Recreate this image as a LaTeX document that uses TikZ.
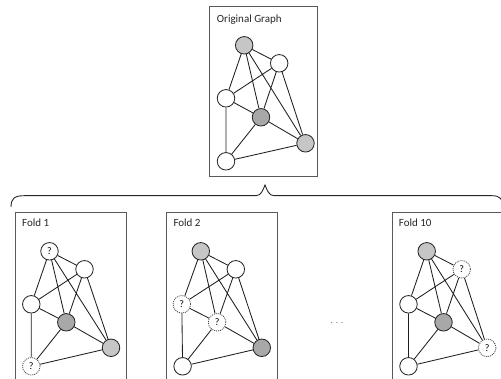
\documentclass[tikz,border=0pt]{standalone}
\usepackage{fontspec}
\setmainfont{Carlito}
\begin{document}
\begin{tikzpicture}[x=1pt,y=-1pt,
  vtx/.style={circle,draw=black!85,line width=0.85pt,minimum size=17.5pt,inner sep=0pt,font=\fontsize{10}{11}\selectfont},
  wv/.style={vtx,fill=white},
  gl/.style={vtx,fill={rgb,255:red,198;green,198;blue,198}},
  gd/.style={vtx,fill={rgb,255:red,168;green,168;blue,168}},
  qv/.style={vtx,fill=white,dash pattern=on 1pt off 1pt,draw=black!70},
  edge/.style={draw=black!88,line width=0.85pt},
  panel/.style={draw=black!65,line width=0.9pt},
  lbl/.style={anchor=base west,inner sep=0pt,font=\fontsize{11}{13}\selectfont,text=black!85}
]
\useasboundingbox (0,0) rectangle (501,379);

% ---------- Original graph ----------
\begin{scope}[shift={(209.7,6.3)}]
  \draw[panel] (0,0) rectangle (107.5,170);
  \node[lbl] (olab) at (7,16.7) {Original Graph};
  \node[gl] (oa) at (34.5,39) {};
  \node[wv] (ob) at (69.5,57) {};
  \node[wv] (oc) at (16.3,92) {};
  \node[gd] (od) at (51.3,111) {};
  \node[gl] (oe) at (95.8,137) {};
  \node[wv] (of) at (16.3,155) {};
\end{scope}
\draw[edge] (oa)--(ob) (oa)--(oc) (oa)--(od) (oa)--(oe)
            (ob)--(oc) (ob)--(od) (ob)--(oe)
            (oc)--(od) (oc)--(of) (od)--(of) (od)--(oe) (of)--(oe);

% ---------- Brace ----------
\draw[line width=0.9pt,black!85] (11,207) .. controls (11,199) and (14,195.7) .. (24,195.7)
  -- (256,195.7) .. controls (261,195.7) and (263,190) .. (265,185)
  .. controls (267,190) and (269,195.7) .. (274,195.7) -- (492,195.7)
  .. controls (500,195.7) and (503,199) .. (503,207);

% ---------- Fold 1 ----------
\begin{scope}[shift={(15,212.3)}]
  \draw[panel] (0,0) rectangle (111.5,180);
  \node[lbl] (l1) at (7,14.3) {Fold 1};
  \node[wv] (a1) at (34.5,39) {?};
  \node[wv] (b1) at (69.5,57) {};
  \node[wv] (c1) at (16.3,92) {};
  \node[gd] (d1) at (51.3,110) {};
  \node[gl] (e1) at (96,135.5) {};
  \node[qv] (f1) at (16.3,154) {?};
\end{scope}
\draw[edge] (a1)--(b1) (a1)--(c1) (a1)--(d1) (a1)--(e1)
            (b1)--(c1) (b1)--(d1) (b1)--(e1)
            (c1)--(d1) (c1)--(f1) (d1)--(f1) (d1)--(e1) (f1)--(e1);

% ---------- Fold 2 ----------
\begin{scope}[shift={(166.3,212.3)}]
  \draw[panel] (0,0) rectangle (111.3,180);
  \node[lbl] (l2) at (7,14.3) {Fold 2};
  \node[gl] (a2) at (34.5,39) {};
  \node[wv] (b2) at (69.5,57) {};
  \node[qv] (c2) at (15.5,92) {?};
  \node[qv] (d2) at (50.8,110) {?};
  \node[gd] (e2) at (95.5,135.5) {};
  \node[wv] (f2) at (16.3,154) {};
\end{scope}
\draw[edge] (a2)--(b2) (a2)--(c2) (a2)--(d2) (a2)--(e2)
            (b2)--(c2) (b2)--(d2) (b2)--(e2)
            (c2)--(d2) (c2)--(f2) (d2)--(f2) (d2)--(e2) (f2)--(e2);

% ---------- dots ----------
\node[font=\fontsize{9}{10}\selectfont,text=black!60] (dots) at (337,323) {.\,\,.\,\,.};

% ---------- Fold 10 ----------
\begin{scope}[shift={(392.2,212.3)}]
  \draw[panel] (0,0) rectangle (111.5,180);
  \node[lbl] (l10) at (6.5,14.3) {Fold 10};
  \node[gl] (a10) at (34.5,39) {};
  \node[qv] (b10) at (69.5,57) {?};
  \node[wv] (c10) at (16.3,92) {};
  \node[gd] (d10) at (51.3,110) {};
  \node[qv] (e10) at (95,135.5) {?};
  \node[wv] (f10) at (16.3,154) {};
\end{scope}
\draw[edge] (a10)--(b10) (a10)--(c10) (a10)--(d10) (a10)--(e10)
            (b10)--(c10) (b10)--(d10) (b10)--(e10)
            (c10)--(d10) (c10)--(f10) (d10)--(f10) (d10)--(e10) (f10)--(e10);
\end{tikzpicture}
\end{document}
